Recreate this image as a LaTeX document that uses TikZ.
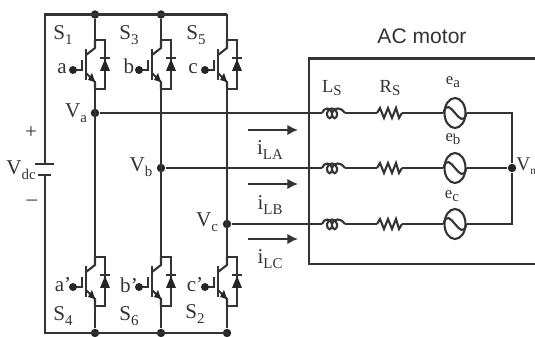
\documentclass[tikz,border=0pt]{standalone}
\usepackage{fontspec}
\setmainfont{Liberation Serif}
\newfontfamily\motorfont{Liberation Sans}
\usetikzlibrary{shapes.geometric,arrows.meta}
\definecolor{wirecol}{gray}{0.2}
\newcommand{\subl}[2]{#1\raisebox{-0.45ex}{\fontsize{8.5}{8.5}\selectfont #2}}
\tikzset{
  wire/.style={draw=wirecol,line width=1.2pt},
  lbl/.style={text=wirecol,inner sep=0pt,font=\fontsize{12}{13}\selectfont},
  emf/.style={text=wirecol,inner sep=0pt,font=\fontsize{9.5}{10}\selectfont},
  junction/.style={circle,fill=black!85,inner sep=0pt,minimum size=4.8pt},
  source/.style={ellipse,draw=wirecol,line width=1.2pt,inner sep=0pt,minimum width=0.42cm,minimum height=0.6cm},
  igbt/.pic={
    \coordinate (-c) at (0,0);
    \coordinate (-e) at (0,49);
    \draw[wire] (0,0) -- (0,8) -- (-9,15);
    \draw[wire] (-9,33) -- (0,42) -- (0,49);
    \draw[wire,line width=1.5pt] (-9,9) -- (-9,40);
    \draw[wire] (-13,20) -- (-13,30) -- (-22,30);
    \fill[black!85] (-22,30) circle (4);
    \fill[black!85] (0,42) -- (-7,40) -- (-3,33) -- cycle;
    \draw[wire] (0,0) -- (10,0) -- (10,49) -- (0,49);
    \draw[wire] (5,18) -- (15,18);
    \fill[black!85] (10,19) -- (15,31) -- (5,31) -- cycle;
  },
  coilpic/.pic={
    \coordinate (-in) at (0,0);
    \coordinate (-out) at (23,0);
    \draw[wire] (0,0) .. controls (2,-6) and (9,-6) .. (10,0) .. controls (10.5,7) and (5,7) .. (5,0)
      .. controls (6,-6) and (14,-6) .. (15,0) .. controls (15.5,7) and (10,7) .. (10,0)
      .. controls (11,-6) and (20,-6) .. (23,0);
  },
  respic/.pic={
    \coordinate (-in) at (0,0);
    \coordinate (-out) at (25,0);
    \draw[wire] (0,0) -- (3,-5) -- (7,5) -- (11,-5) -- (15,5) -- (19,-5) -- (22,5) -- (25,0);
  },
}
\begin{document}
\begin{tikzpicture}[x=0.02cm,y=-0.02cm]
  \useasboundingbox (0,0) rectangle (535,337);
  % dc bus
  \coordinate (tl) at (45,14.5);
  \coordinate (tr) at (227,14.5);
  \coordinate (bl) at (45,333);
  \coordinate (br) at (227,333);
  \coordinate (capp) at (45,164);
  \coordinate (capm) at (45,175);
  \coordinate (cappl) at (35,164);
  \coordinate (cappr) at (54,164);
  \coordinate (capml) at (38,175);
  \coordinate (capmr) at (51,175);
  \node[junction] (t1) at (95,14.5) {};
  \node[junction] (t2) at (161,14.5) {};
  \node[junction] (b1) at (95,333) {};
  \node[junction] (b2) at (161,333) {};
  \node[junction] (b3) at (227,333) {};
  \node[junction] (va) at (95,113) {};
  \node[junction] (vb) at (161,168) {};
  \node[junction] (vc) at (227,224) {};
  \node[junction] (vn) at (512,168) {};
  \draw[wire] (capp) -- (tl) -- (tr);
  \draw[wire] (capm) -- (bl) -- (br);
  \draw[wire] (cappl) -- (cappr);
  \draw[wire] (capml) -- (capmr);
  % switches
  \pic (s1) at (95,40) {igbt};
  \pic (s3) at (161,40) {igbt};
  \pic (s5) at (227,40) {igbt};
  \pic (s4) at (95,257) {igbt};
  \pic (s6) at (161,257) {igbt};
  \pic (s2) at (227,257) {igbt};
  \draw[wire] (t1) -- (s1-c) (s1-e) -- (s4-c) (s4-e) -- (b1);
  \draw[wire] (t2) -- (s3-c) (s3-e) -- (s6-c) (s6-e) -- (b2);
  \draw[wire] (tr) -- (s5-c) (s5-e) -- (s2-c) (s2-e) -- (b3);
  % motor
  \coordinate (mtl) at (309,58.5);
  \coordinate (mtr) at (535,58.5);
  \coordinate (mbl) at (309,264);
  \coordinate (mbr) at (535,264);
  \draw[wire] (mtr) -- (mtl) -- (mbl) -- (mbr);
  \pic (la) at (322,113) {coilpic};
  \pic (lb) at (322,168) {coilpic};
  \pic (lc) at (322,224) {coilpic};
  \pic (ra) at (377,113) {respic};
  \pic (rb) at (377,168) {respic};
  \pic (rc) at (377,224) {respic};
  \node[source] (ea) at (455,113) {};
  \node[source] (eb) at (455,168) {};
  \node[source] (ec) at (455,224) {};
  \coordinate (na) at (512,113);
  \coordinate (nc) at (512,224);
  \draw[wire] (va) -- (la-in) (la-out) -- (ra-in) (ra-out) -- (ea.west) (ea.east) -- (na) -- (vn);
  \draw[wire] (vb) -- (lb-in) (lb-out) -- (rb-in) (rb-out) -- (eb.west) (eb.east) -- (vn);
  \draw[wire] (vc) -- (lc-in) (lc-out) -- (rc-in) (rc-out) -- (ec.west) (ec.east) -- (nc) -- (vn);
  \draw[wire] (ea.west) .. controls (449,92) and (461,134) .. (ea.east);
  \draw[wire] (eb.west) .. controls (449,147) and (461,189) .. (eb.east);
  \draw[wire] (ec.west) .. controls (449,203) and (461,245) .. (ec.east);
  % line currents
  \coordinate (ia1) at (248,130);
  \coordinate (ia2) at (298,130);
  \coordinate (ib1) at (248,184);
  \coordinate (ib2) at (298,184);
  \coordinate (ic1) at (248,239);
  \coordinate (ic2) at (298,239);
  \draw[wire,-{Latex[length=6pt,width=6pt]}] (ia1) -- (ia2);
  \draw[wire,-{Latex[length=6pt,width=6pt]}] (ib1) -- (ib2);
  \draw[wire,-{Latex[length=6pt,width=6pt]}] (ic1) -- (ic2);
  % labels
  \node[lbl] (ls1) at (63,35) {\subl{S}{1}};
  \node[lbl] (ls3) at (129,35) {\subl{S}{3}};
  \node[lbl] (ls5) at (196,35) {\subl{S}{5}};
  \node[lbl] (ls4) at (63,316) {\subl{S}{4}};
  \node[lbl] (ls6) at (129,316) {\subl{S}{6}};
  \node[lbl] (ls2) at (195,314) {\subl{S}{2}};
  \node[lbl] (ga) at (62,69) {a};
  \node[lbl] (gb) at (129,66) {b};
  \node[lbl] (gc) at (193,69) {c};
  \node[lbl] (gad) at (63,285) {a'};
  \node[lbl] (gbd) at (129,285) {b'};
  \node[lbl] (gcd) at (195,285) {c'};
  \node[lbl] (lva) at (76,113) {\subl{V}{a}};
  \node[lbl] (lvb) at (141,167) {\subl{V}{b}};
  \node[lbl] (lvc) at (207,222) {\subl{V}{c}};
  \node[lbl] (lvdc) at (21,170) {\subl{V}{dc}};
  \node[lbl] (lplus) at (31,133) {+};
  \node[lbl] (lminus) at (32,203) {--};
  \node[lbl,anchor=west,font=\fontsize{11}{12}\selectfont] (lvn) at (516,166) {V\raisebox{-0.45ex}{\fontsize{6.5}{6.5}\selectfont n}};
  \node[lbl] (lia) at (270,150) {\subl{i}{LA}};
  \node[lbl] (lib) at (270,205) {\subl{i}{LB}};
  \node[lbl] (lic) at (270,259) {\subl{i}{LC}};
  \node[lbl,font=\fontsize{10.5}{11}\selectfont] (lls) at (332,88) {\subl{L}{S}};
  \node[lbl,font=\fontsize{10.5}{11}\selectfont] (lrs) at (390,88) {\subl{R}{S}};
  \node[emf] (lea) at (453,82) {\subl{e}{a}};
  \node[emf] (leb) at (453,139) {\subl{e}{b}};
  \node[emf] (lec) at (452,196) {\subl{e}{c}};
  \node[lbl,font=\motorfont\fontsize{12}{14}\selectfont] (lmotor) at (422,36) {AC motor};
\end{tikzpicture}
\end{document}
